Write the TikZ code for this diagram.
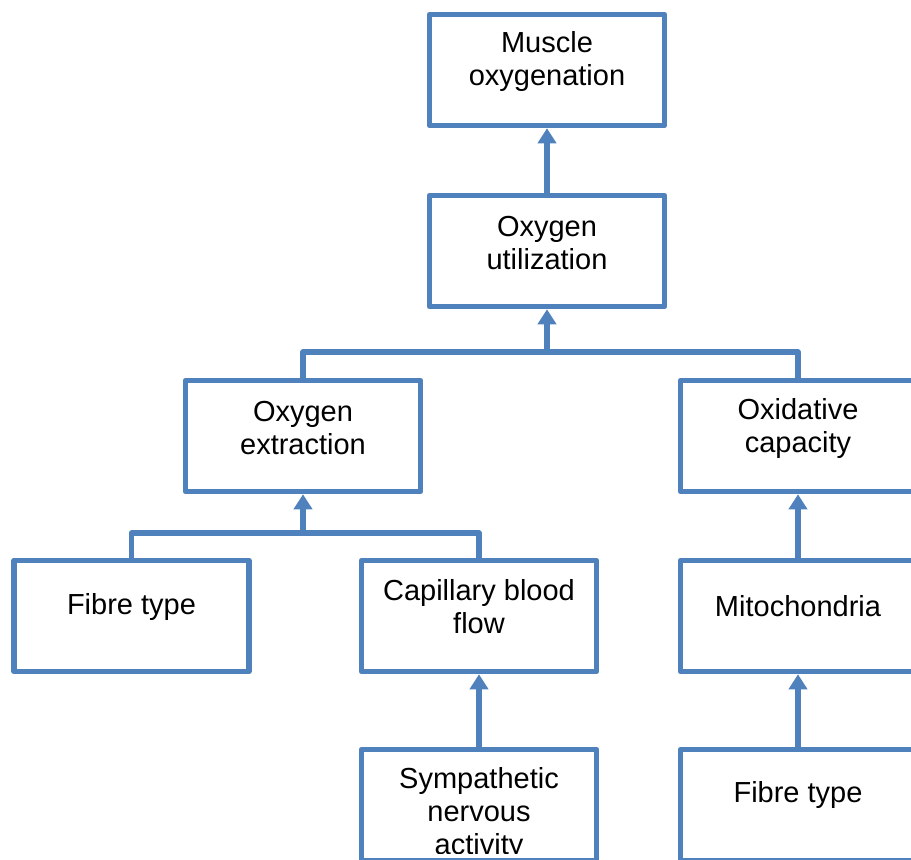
\documentclass[tikz,border=0pt]{standalone}
\usepackage{fontspec}
\setmainfont{Liberation Sans}
\usetikzlibrary{arrows.meta}
\definecolor{boxblue}{HTML}{4F81BD}
\begin{document}
\begin{tikzpicture}[x=1pt,y=-1pt,
  box/.style={draw=boxblue,line width=5.5pt,line join=round,minimum width=235pt,minimum height=111pt,inner sep=0pt,fill=white},
  lbl/.style={font=\fontsize{29}{33}\selectfont,align=center,inner sep=0pt},
  conn/.style={draw=boxblue,line width=5.5pt,line join=round},
  arr/.style={conn,-{Triangle[width=18pt,length=15pt]}}]
\useasboundingbox (0,0) rectangle (911,860);
\clip (0,0) rectangle (911,860);
% boxes
\node[box] (b1) at (547,70) {};
\node[box] (b2) at (547,251) {};
\node[box] (b3) at (303,436) {};
\node[box] (b4) at (798,436) {};
\node[box] (b5) at (131.5,616) {};
\node[box] (b6) at (479,616) {};
\node[box] (b7) at (798,616) {};
\node[box] (b8) at (479,805) {};
\node[box] (b9) at (798,805) {};
% labels
\node[lbl] (t1) at (547,61) {Muscle\\oxygenation};
\node[lbl] (t2) at (547,243) {Oxygen\\utilization};
\node[lbl] (t3) at (303,428) {Oxygen\\extraction};
\node[lbl] (t4) at (798,428) {Oxidative\\capacity};
\node[lbl] (t5) at (131.5,607) {Fibre type};
\node[lbl] (t6) at (479,607) {Capillary blood\\flow};
\node[lbl] (t7) at (798,606) {Mitochondria};
\begin{scope}
\clip (300,740) rectangle (660,853);
\node[lbl] (t8) at (479,814) {Sympathetic\\nervous\\activity};
\end{scope}
\node[lbl] (t9) at (798,795) {Fibre type};
% connectors
\coordinate (j1) at (547,352);
\coordinate (j2) at (303,533);
\draw[conn] (b3.north) -- (b3.north |- j1) -- (b4.north |- j1) -- (b4.north);
\draw[arr] (j1) -- (b2.south);
\draw[conn] (b5.north) -- (b5.north |- j2) -- (b6.north |- j2) -- (b6.north);
\draw[arr] (j2) -- (b3.south);
\draw[arr] (b2.north) -- (b1.south);
\draw[arr] (b7.north) -- (b4.south);
\draw[arr] (b8.north) -- (b6.south);
\draw[arr] (b9.north) -- (b7.south);
\end{tikzpicture}
\end{document}
